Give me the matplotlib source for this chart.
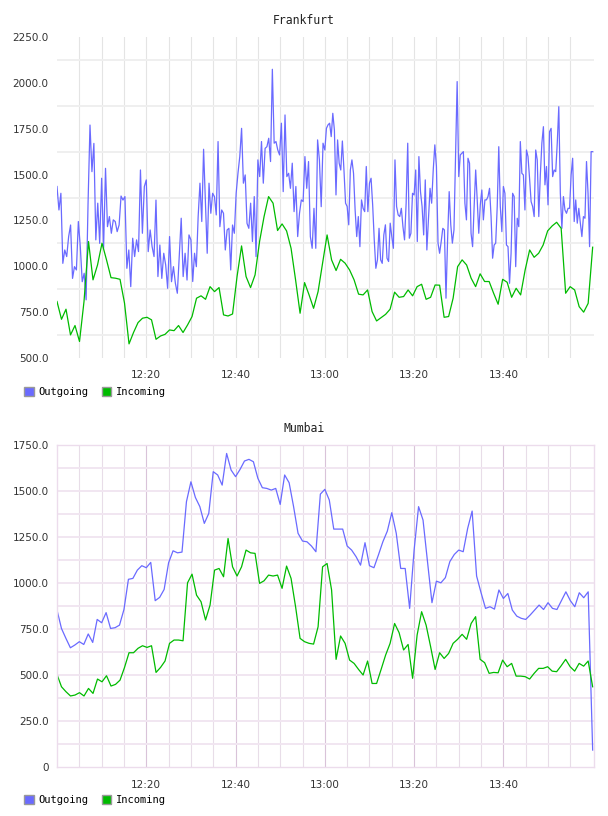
import numpy as np
import matplotlib
matplotlib.use("Agg")
import matplotlib.pyplot as plt
from matplotlib.patches import Patch

# Frankfurt outgoing, read per half hour (dense samples)
fra_out_1200 = [1435, 1307, 1398, 1016, 1089, 1053, 1162, 1225, 934, 998, 980, 1244, 1107, 916, 962,
                817, 1344, 1770, 1516, 1670, 1144, 1344, 1125, 1480, 1098, 1534, 1216, 1271, 1180, 1253,
                1244, 1189, 1225, 1383, 1361, 1380, 989, 1089, 889, 1153, 1053, 1144, 1080, 1525, 1180,
                1435, 1471, 1080, 1198, 1107, 1053, 1361, 944, 1116, 934, 1071, 1007, 880, 1162, 916,
                998, 907, 853, 1053, 1262, 944, 1071, 925, 1171]
fra_out_1230 = [1144, 917, 1071, 998, 1271, 1453, 1244, 1638, 1362, 1071, 1453, 1289, 1398, 1380, 1280,
                1680, 1216, 1307, 1289, 1089, 1198, 1207, 980, 1225, 1180, 1398, 1507, 1598, 1752, 1453,
                1498, 1234, 1207, 1344, 1135, 1380, 1053, 1580, 1489, 1680, 1453, 1643, 1652, 1698, 1571,
                2074, 1671, 1680, 1634, 1607, 1780, 1407, 1825, 1489, 1507, 1425, 1562, 1298, 1435, 1162,
                1289, 1362, 1353, 1598, 1425, 1571, 1162, 1098, 1316, 1098, 1689, 1580, 1325, 1671]
fra_out_1300 = [1634, 1752, 1771, 1780, 1707, 1834, 1743, 1389, 1689, 1562, 1525, 1683, 1525, 1344, 1326,
                1226, 1525, 1580, 1507, 1307, 1162, 1271, 1107, 1362, 1316, 1298, 1544, 1298, 1453, 1480,
                1335, 1144, 989, 1035, 1207, 1035, 1016, 1171, 1226, 1044, 1026, 1235, 1162, 1098, 1580,
                1326, 1280, 1271, 1316, 1216, 1144, 1344, 1671, 1153, 1180, 1398, 1389, 1525, 1135, 1598,
                1407, 1326, 1171, 1471, 1089, 1253, 1425, 1344, 1525, 1662, 1544, 1126, 1071, 1135, 1207,
                1198, 826, 1144, 1407, 1226, 1126, 1198, 1598, 2007]
fra_out_1330 = [1489, 1607, 1616, 1625, 1344, 1253, 1589, 1562, 1180, 1107, 1326, 1525, 1362, 1180, 1335,
                1416, 1253, 1362, 1362, 1380, 1425, 1271, 1044, 1116, 1126, 1326, 1652, 1326, 1189, 1435,
                1398, 1116, 1107, 907, 1071, 1398, 1380, 998, 1262, 1216, 1680, 1507, 1498, 1307, 1634,
                1598, 1480, 1353, 1326, 1271, 1634, 1580, 1271, 1498, 1671, 1761, 1444, 1544, 1335, 1734,
                1752, 1489, 1525, 1516, 1671, 1870, 1398, 1207, 1380, 1307, 1289, 1316, 1316, 1498, 1589,
                1244, 1362, 1235, 1316, 1235, 1162, 1271, 1262, 1571, 1398, 1107, 1625, 1625]

# Frankfurt incoming, one sample per minute
fra_in = [808, 711, 766, 626, 677, 590, 808, 1135, 926, 1007, 1126, 1035, 938, 935, 929,
          799, 577, 639, 693, 717, 722, 708, 602, 620, 629, 653, 649, 677, 639, 680,
          726, 826, 839, 820, 889, 862, 884, 735, 729, 740, 944, 1111, 944, 884, 953,
          1135, 1271, 1380, 1344, 1195, 1231, 1193, 1098, 926, 744, 911, 844, 771, 862, 1017,
          1171, 1035, 977, 1038, 1017, 980, 926, 848, 844, 871, 753, 702, 720, 738, 766,
          859, 831, 835, 871, 839, 889, 902, 820, 831, 898, 897, 722, 726, 826, 998,
          1035, 1007, 935, 889, 959, 917, 917, 853, 793, 929, 913, 831, 880, 844, 980,
          1089, 1049, 1071, 1116, 1193, 1220, 1240, 1207, 853, 889, 871, 780, 750, 798, 1104]

# Mumbai, one sample per minute
mum_out = [853, 753, 699, 648, 663, 681, 666, 723, 677, 802, 784, 839, 753, 757, 771,
           856, 1020, 1025, 1070, 1094, 1083, 1112, 904, 922, 965, 1110, 1175, 1164, 1168, 1442,
           1550, 1465, 1415, 1324, 1378, 1605, 1587, 1532, 1704, 1614, 1578, 1617, 1663, 1672, 1659,
           1569, 1518, 1514, 1505, 1514, 1427, 1587, 1545, 1415, 1270,
           1228, 1224, 1201, 1170, 1483, 1509, 1451, 1293, 1293, 1293, 1201, 1179, 1143, 1097, 1219,
           1094, 1083, 1152, 1224, 1282, 1382, 1270, 1079, 1079, 862, 1179, 1415, 1342, 1116, 893,
           1010, 1001, 1029, 1116, 1155, 1179, 1170, 1297, 1391, 1038, 947, 862, 871, 858, 962,
           916, 943, 853, 820, 808, 802, 826, 853, 880, 856, 893, 862, 856, 904, 952,
           904, 871, 947, 920, 952, 92]
mum_in = [503, 436, 409, 386, 391, 404, 386, 427, 400, 478, 463, 496, 440, 449, 472,
          541, 621, 621, 645, 659, 650, 659, 514, 541, 576, 672, 690, 690, 686,
          1001, 1048, 934, 898, 799, 880, 1070, 1079, 1034, 1242, 1088, 1038, 1088, 1179, 1164,
          1161, 998, 1012, 1043, 1038, 1043, 971, 1092, 1025, 871,
          699, 681, 672, 668, 762, 1088, 1106, 962, 585, 712, 672, 581, 563, 530, 500,
          576, 454, 454, 530, 608, 672, 780, 730, 636, 666, 482, 717, 844, 771, 654,
          530, 621, 590, 617, 672, 694, 721, 694, 780, 817, 585, 567, 509, 514, 512,
          581, 545, 563, 494, 494, 491, 478, 509, 536, 536, 545, 521, 518, 550, 585,
          545, 521, 563, 548, 576, 436]

time_ticks = [20, 40, 60, 80, 100]
time_labels = ["12:20", "12:40", "13:00", "13:20", "13:40"]

out_color = "#6a6aff"
in_color = "#00bb00"

# minutes after 12:00 for the outgoing half-hour blocks
parts = [fra_out_1200, fra_out_1230, fra_out_1300, fra_out_1330]
fra_out_t = np.concatenate([np.linspace(30 * i, 30 * i + 30, len(p), endpoint=(i == 3))
                            for i, p in enumerate(parts)])
fra_out = np.concatenate(parts)
fra_in_t = np.linspace(0, 120, len(fra_in))
mum_out_t = np.linspace(0, 120, len(mum_out))
mum_in_t = np.linspace(0, 120, len(mum_in))

fig = plt.figure(figsize=(6.08, 8.16), dpi=100)
W, H = 608, 816
ax1 = fig.add_axes([57 / W, 1 - 358 / H, 537 / W, 321 / H])
ax2 = fig.add_axes([57 / W, 1 - 767 / H, 537 / W, 322 / H])

mono = "DejaVu Sans Mono"

def style(ax, lo, hi, frame_color, hgrid_color, vminor, vmajor):
    ax.set_xlim(0, 120.3)
    ax.set_ylim(lo, hi)
    ax.set_xticks(time_ticks)
    ax.set_xticklabels(time_labels)
    ax.set_xticks(np.arange(5, 120, 5), minor=True)
    yt = np.arange(lo, hi + 1, 250)
    ax.set_yticks(yt)
    ax.set_yticklabels(["0" if v == 0 else "%.1f" % v for v in yt])
    ax.tick_params(which="both", length=0, labelsize=7.5, labelcolor="#333333")
    ax.tick_params(axis="y", pad=6)
    ax.tick_params(axis="x", pad=9)
    for s in ax.spines.values():
        s.set_visible(frame_color is not None)
        if frame_color:
            s.set_color(frame_color)
            s.set_linewidth(1)
    for v in np.arange(5, 120, 5):
        col = vmajor if v in time_ticks else vminor
        ax.axvline(v, color=col, lw=0.8, zorder=0)
    for v in hgrid_color[0]:
        ax.axhline(v, color=hgrid_color[1], lw=1.4, zorder=0)

style(ax1, 500, 2250, None, (np.arange(625, 2250, 250), "#efefef"), "#e4e4e4", "#e4e4e4")
style(ax2, 0, 1750, "#ecdcec", (np.arange(125, 1750, 125), "#f1e6f1"), "#e8dde8", "#d9c3d9")

ax1.plot(fra_out_t, fra_out, color=out_color, lw=0.9)
ax1.plot(fra_in_t, fra_in, color=in_color, lw=0.9)
ax2.plot(mum_out_t, mum_out, color=out_color, lw=0.9)
ax2.plot(mum_in_t, mum_in, color=in_color, lw=0.9)

fig.text(304 / W, 1 - 20 / H, "Frankfurt", ha="center", va="center", family=mono, fontsize=8.3, color="#222222")
fig.text(304 / W, 1 - 428 / H, "Mumbai", ha="center", va="center", family=mono, fontsize=8.3, color="#222222")

for ypix in (392, 800):
    handles = [Patch(facecolor=out_color, edgecolor="#999999", label="Outgoing"),
               Patch(facecolor=in_color, edgecolor="#999999", label="Incoming")]
    fig.legend(handles=handles, loc="center left", bbox_to_anchor=(24 / W, 1 - ypix / H),
               ncol=2, frameon=False, handlelength=0.95, handleheight=0.95, handletextpad=0.45,
               columnspacing=1.25, borderpad=0, borderaxespad=0,
               prop=dict(family=mono, size=7.5))

fig.savefig("out.png", dpi=100)
